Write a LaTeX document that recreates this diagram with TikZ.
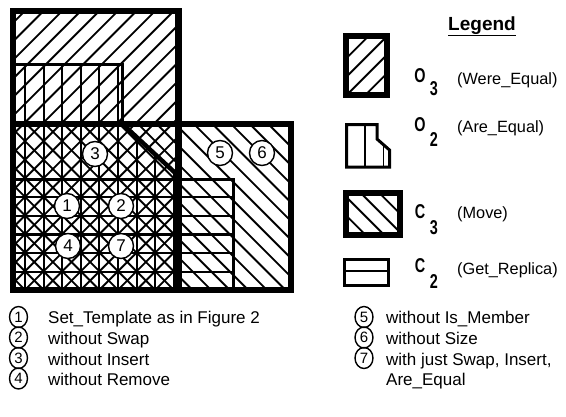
\documentclass[tikz,border=0pt]{standalone}
\usepackage{fontspec}
\usepackage{graphicx}
\setmainfont{Liberation Sans}
\usetikzlibrary{shapes.geometric}
\begin{document}
\begin{tikzpicture}[x=1pt,y=-1pt,
  hatchline/.style={line width=1.9pt},
  gridline/.style={line width=2.3pt},
  heavy/.style={line width=6.5pt},
  medium/.style={line width=3pt,line join=miter},
  bigno/.style={circle,draw,line width=1.4pt,fill=white,minimum size=25pt,inner sep=0pt,font=\fontsize{17}{17}\selectfont},
  smallno/.style={ellipse,draw,line width=1.4pt,minimum width=18pt,minimum height=21pt,inner sep=0pt,font=\fontsize{15}{15}\selectfont},
  desc/.style={anchor=base west,inner sep=0pt,font=\fontsize{17}{17}\selectfont},
  legtext/.style={anchor=west,inner sep=0pt,font=\fontsize{16.3}{16.3}\selectfont},
  sym/.style={inner sep=0pt,font=\fontsize{20}{20}\bfseries\selectfont}]

\useasboundingbox (0,0) rectangle (566,416);

% ---------- main figure: hatching ----------
% O3 : forward diagonal hatch
\begin{scope}
  \clip (13,11) rectangle (178.5,290);
  \foreach \n in {-10,...,16}
    \draw[hatchline] ({184.7+18.6*\n},0) -- ({184.7+18.6*\n-320},320);
\end{scope}
% C3 : backward diagonal hatch
\begin{scope}
  \clip (13,124) rectangle (291,290);
  \foreach \n in {-7,...,21}
    \draw[hatchline] ({-171.9+18.6*\n},0) -- ({-171.9+18.6*\n+320},320);
\end{scope}
% O2 : vertical lines
\begin{scope}
  \clip (13,64.5) -- (122.5,64.5) -- (122.5,124) -- (178.5,176) -- (178.5,290) -- (13,290) -- cycle;
  \foreach \k in {1,...,9}
    \draw[hatchline] ({6.4+18.6*\k},0) -- ({6.4+18.6*\k},300);
\end{scope}
% C2 : horizontal lines
\foreach \k in {1,...,5}
  \draw[gridline] (13,{178.5+18.7*\k}) -- (233.5,{178.5+18.7*\k});

% ---------- main figure: borders ----------
\draw[medium] (13,179) rectangle (233.5,290);
\draw[medium] (13,64.5) -- (122.5,64.5) -- (122.5,124);
\draw[line width=4.5pt] (122.5,124) -- (178.5,176);
\draw[heavy] (13,11) rectangle (178.5,290);
\draw[heavy] (13,124) rectangle (291,290);

% ---------- main figure: numbered circles ----------
\node[bigno] (m3) at (95,154) {3};
\node[bigno] (m5) at (220,153) {5};
\node[bigno] (m6) at (262,153) {6};
\node[bigno] (m1) at (67,206) {1};
\node[bigno] (m2) at (121,206) {2};
\node[bigno] (m4) at (68,246) {4};
\node[bigno] (m7) at (121,246) {7};

% ---------- legend ----------
\node[anchor=base,inner sep=0pt,font=\fontsize{19}{19}\bfseries\selectfont] (legend) at (482,30) {\underline{Legend}};

% O3 legend box
\begin{scope}
  \clip (346,36) rectangle (387,95);
  \foreach \n in {0,...,6}
    \draw[hatchline] ({386+18.6*\n},0) -- ({386+18.6*\n-200},200);
\end{scope}
\draw[heavy] (346,36) rectangle (387,95);
\node[sym] (o3l) at (420,76) {\scalebox{0.72}[1]{O}};
\node[sym] (o3s) at (434,89) {\scalebox{0.72}[1]{3}};
\node[legtext] (o3t) at (457,80) {(Were\_Equal)};

% O2 legend shape
\begin{scope}
  \clip (346.5,124.5) -- (377,124.5) -- (377,139) -- (389.5,150) -- (389.5,167) -- (346.5,167) -- cycle;
  \draw[hatchline] (365,100) -- (365,180);
  \draw[hatchline] (383.5,100) -- (383.5,180);
\end{scope}
\draw[medium] (346.5,124.5) -- (377,124.5) -- (377,139) -- (389.5,150) -- (389.5,167) -- (346.5,167) -- cycle;
\node[sym] (o2l) at (420,125) {\scalebox{0.72}[1]{O}};
\node[sym] (o2s) at (434,140) {\scalebox{0.72}[1]{2}};
\node[legtext] (o2t) at (457,128) {(Are\_Equal)};

% C3 legend box
\begin{scope}
  \clip (346,193) rectangle (400,235);
  \foreach \n in {0,...,6}
    \draw[hatchline] ({112+18.6*\n},0) -- ({112+18.6*\n+300},300);
\end{scope}
\draw[heavy] (346,193) rectangle (400,235);
\node[sym] (c3l) at (420,212) {\scalebox{0.72}[1]{C}};
\node[sym] (c3s) at (434,228) {\scalebox{0.72}[1]{3}};
\node[legtext] (c3t) at (457,214) {(Move)};

% C2 legend box
\draw[medium] (344.5,259.5) rectangle (388.5,285.5);
\draw[gridline] (344.5,271) -- (388.5,271);
\node[sym] (c2l) at (420,266) {\scalebox{0.72}[1]{C}};
\node[sym] (c2s) at (434,282) {\scalebox{0.72}[1]{2}};
\node[legtext] (c2t) at (457,270) {(Get\_Replica)};

% ---------- bottom notes ----------
\node[smallno] (n1) at (18.5,317) {1};
\node[smallno] (n2) at (18.5,337.5) {2};
\node[smallno] (n3) at (18.5,358) {3};
\node[smallno] (n4) at (18.5,378.5) {4};
\node[desc] (d1) at (48,323) {Set\_Template as in Figure 2};
\node[desc] (d2) at (48,344) {without Swap};
\node[desc] (d3) at (48,365) {without Insert};
\node[desc] (d4) at (48,385) {without Remove};

\node[smallno] (n5) at (364,317) {5};
\node[smallno] (n6) at (364,337.5) {6};
\node[smallno] (n7) at (364,358) {7};
\node[desc] (d5) at (386,323) {without Is\_Member};
\node[desc] (d6) at (386,344) {without Size};
\node[desc] (d7) at (386,365) {with just Swap, Insert,};
\node[desc] (d8) at (386,385) {Are\_Equal};
\end{tikzpicture}
\end{document}
